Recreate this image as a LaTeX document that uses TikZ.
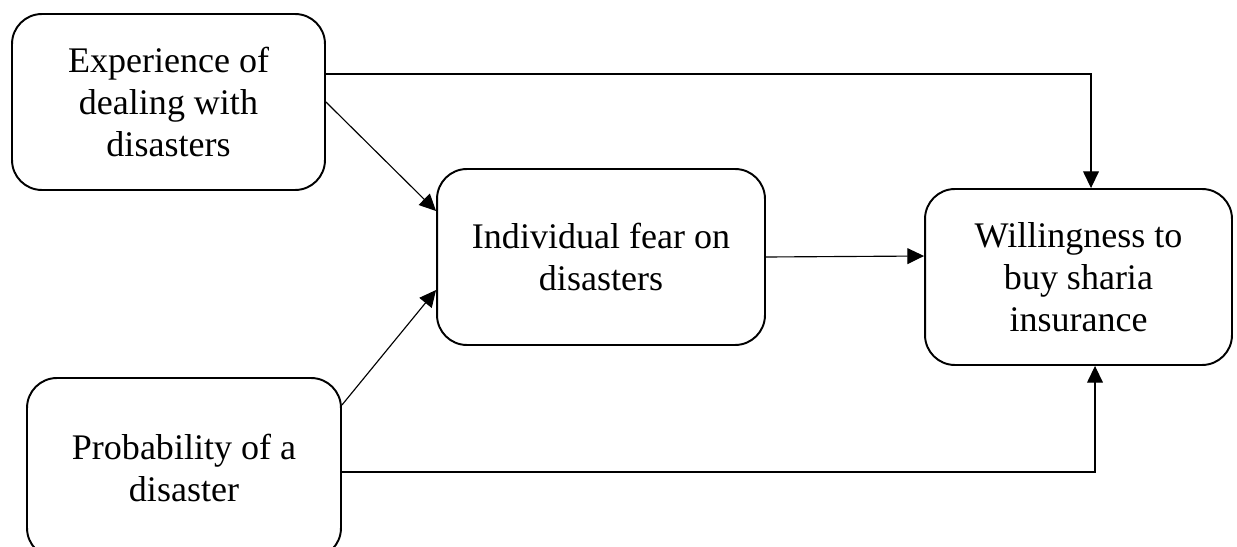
\documentclass[tikz,border=0pt]{standalone}
\usepackage{fontspec}
\setmainfont{Liberation Serif}
\usepackage{tikz}
\usetikzlibrary{positioning,arrows.meta}

\begin{document}
\begin{tikzpicture}[
    x=0.02cm, y=-0.02cm,
    factor/.style={draw, line width=1.1pt, rounded corners=17pt, align=center, minimum height=3.52cm,
        font=\fontsize{20.5pt}{23.8pt}\selectfont},
    link/.style={line width=0.65pt, -{Triangle[length=9.5pt,width=9pt]}},
]
\useasboundingbox (0,0) rectangle (1237,547);
\clip (0,0) rectangle (1237,547);

\node[factor, minimum width=6.26cm] (exp) at (168.5, 102) {Experience of\\dealing with\\disasters};
\node[factor, minimum width=6.56cm] (fear) at (601, 257) {Individual fear on\\disasters};
\node[factor, minimum width=6.14cm] (will) at (1078.5, 277) {Willingness to\\buy sharia\\insurance};
\node[factor, minimum width=6.28cm, minimum height=3.6cm] (prob) at (184, 468) {Probability of a\\disaster};

\draw[link] ([yshift=0.56cm]exp.east) -| ([xshift=0.25cm]will.north);
\draw[link] (exp.east) -- ([yshift=0.92cm]fear.west);
\draw[link] ([yshift=1.26cm]prob.east) -- ([yshift=-0.66cm]fear.west);
\draw[link] (fear.east) -- ([yshift=0.42cm]will.west);
\draw[link] ([yshift=-0.08cm]prob.east) -| ([xshift=0.33cm]will.south);
\end{tikzpicture}
\end{document}
